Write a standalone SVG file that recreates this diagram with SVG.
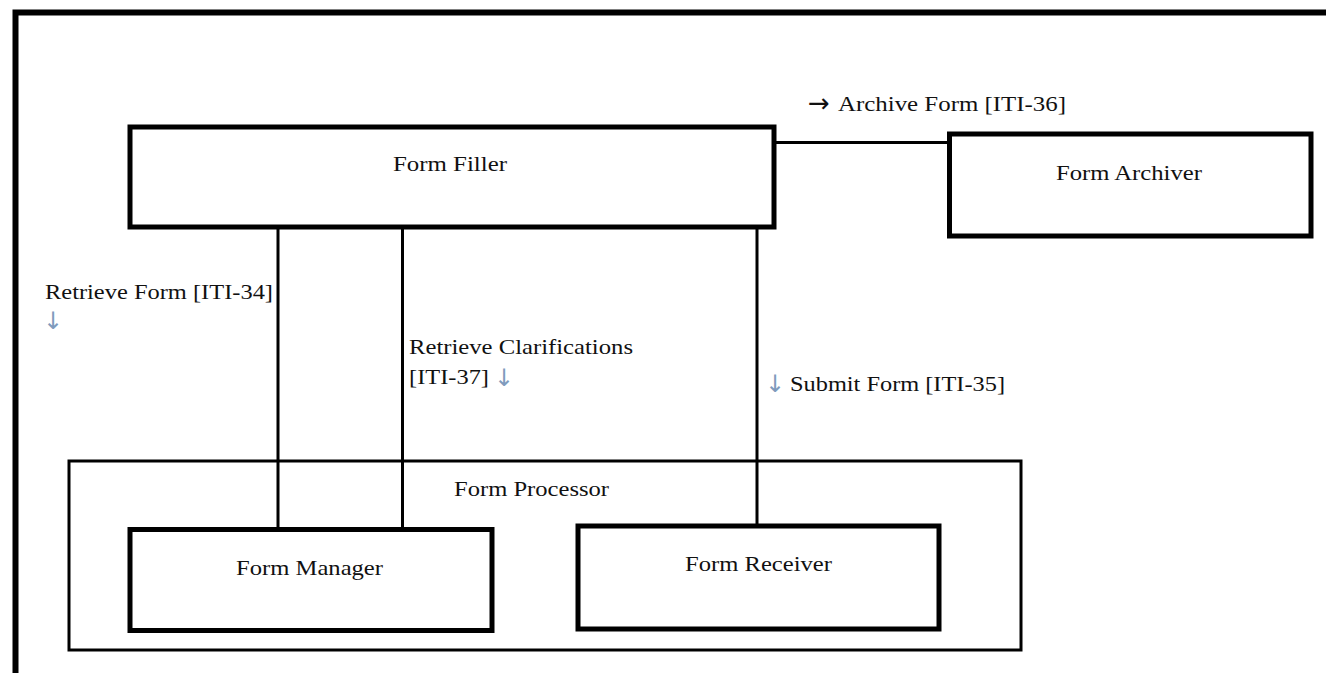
<svg xmlns="http://www.w3.org/2000/svg" width="1326" height="673" viewBox="0 0 1326 673">
<style>
.box{fill:#fff;stroke:#000;stroke-width:5}
.grp{fill:none;stroke:#000;stroke-width:3}
.ln{fill:none;stroke:#000;stroke-width:3}
.t{font-family:"Liberation Serif","Times New Roman",serif;font-size:22px;fill:#111}
.arr{font-family:"DejaVu Sans",sans-serif;font-size:24px;fill:#7f9bbd}
.arrk{font-family:"DejaVu Sans",sans-serif;font-size:26px;fill:#111}
</style>
<rect width="1326" height="673" fill="#fff"/>
<path d="M15.5,690 V12.5 H1340" fill="none" stroke="#000" stroke-width="6"/>
<g id="form-processor">
<rect class="grp" x="69" y="461" width="952" height="189"/>
<text class="t" x="454" y="496" textLength="155" lengthAdjust="spacingAndGlyphs">Form Processor</text>
</g>
<g id="connectors">
<line class="ln" x1="774" y1="142.5" x2="949" y2="142.5"/>
<line class="ln" x1="278" y1="227" x2="278" y2="529"/>
<line class="ln" x1="402.5" y1="227" x2="402.5" y2="529"/>
<line class="ln" x1="757" y1="227" x2="757" y2="524"/>
</g>
<g id="form-filler">
<rect class="box" x="130" y="127" width="644" height="100"/>
<text class="t" x="393" y="171" textLength="114" lengthAdjust="spacingAndGlyphs">Form Filler</text>
</g>
<g id="form-archiver">
<rect class="box" x="949.5" y="134" width="361.5" height="102"/>
<text class="t" x="1056" y="180" textLength="146" lengthAdjust="spacingAndGlyphs">Form Archiver</text>
</g>
<g id="form-manager">
<rect class="box" x="130" y="529.5" width="362" height="101"/>
<text class="t" x="236" y="575" textLength="147" lengthAdjust="spacingAndGlyphs">Form Manager</text>
</g>
<g id="form-receiver">
<rect class="box" x="578" y="526" width="361" height="103"/>
<text class="t" x="685" y="571" textLength="147" lengthAdjust="spacingAndGlyphs">Form Receiver</text>
</g>
<g id="labels">
<text class="arrk" x="808" y="112">→</text>
<text class="t" x="838" y="111" textLength="228" lengthAdjust="spacingAndGlyphs">Archive Form [ITI-36]</text>
<text class="t" x="45" y="299" textLength="228" lengthAdjust="spacingAndGlyphs">Retrieve Form [ITI-34]</text>
<text class="arr" x="43" y="329">↓</text>
<text class="t" x="409" y="354" textLength="224" lengthAdjust="spacingAndGlyphs">Retrieve Clarifications</text>
<text class="t" x="409" y="384" textLength="80" lengthAdjust="spacingAndGlyphs">[ITI-37]</text>
<text class="arr" x="494" y="386">↓</text>
<text class="arr" x="765" y="392">↓</text>
<text class="t" x="790" y="391" textLength="215" lengthAdjust="spacingAndGlyphs">Submit Form [ITI-35]</text>
</g>
</svg>
